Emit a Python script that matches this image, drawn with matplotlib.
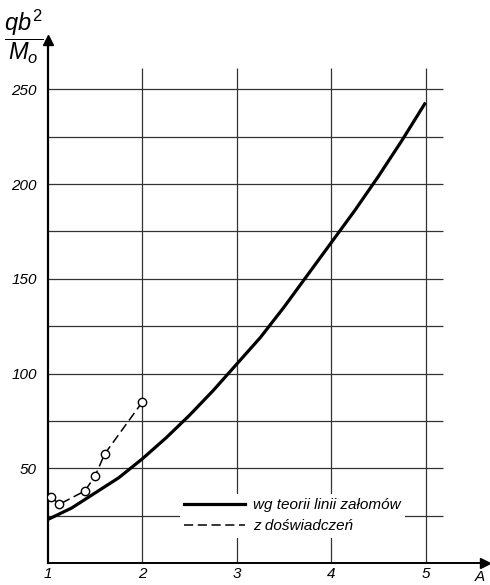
import matplotlib
matplotlib.use("Agg")
import matplotlib.pyplot as plt
from matplotlib.lines import Line2D

plt.rcParams["font.family"] = ["Liberation Sans", "DejaVu Sans"]
plt.rcParams["mathtext.fontset"] = "custom"
plt.rcParams["mathtext.it"] = "Liberation Sans:italic"
plt.rcParams["mathtext.rm"] = "Liberation Sans"

# theory curve (wg teorii linii załomów)
theory_A = [1.0, 1.25, 1.5, 1.75, 2.0, 2.25, 2.5, 2.75, 3.0, 3.25, 3.5, 3.75, 4.0, 4.25, 4.5, 4.75, 5.0]
theory_q = [23, 29, 37, 45, 55, 66, 78, 91, 105, 119, 135, 152, 169, 186, 204, 223, 243]

# experiments (z doświadczeń)
exp_A = [1.03, 1.12, 1.39, 1.5, 1.6, 2.0]
exp_q = [35, 31, 38, 46, 57.5, 85]

x_ticks = [1, 2, 3, 4, 5]
y_ticks = [50, 100, 150, 200, 250]
h_grid = [25, 50, 75, 100, 125, 150, 175, 200, 225, 250]
v_grid = [2, 3, 4, 5]
labels = ["wg teorii linii załomów", "z doświadczeń"]

fig = plt.figure(figsize=(4.9, 5.85), dpi=100)
ax = fig.add_axes([48 / 490, 22 / 585, 437 / 490, 523 / 585])
ax.set_xlim(1, 5.63)
ax.set_ylim(0, 276)

ax.hlines(h_grid, 1, 5.19, color="#333333", lw=0.9, zorder=1)
ax.vlines(v_grid, 0, 261, color="#333333", lw=0.9, zorder=1)

ax.plot(theory_A, theory_q, color="black", lw=2.3, solid_capstyle="butt", zorder=3)
ax.plot(exp_A, exp_q, color="black", lw=1.1, dashes=(6, 3), marker="o", ms=6,
        mfc="white", mec="black", mew=1.0, zorder=4)

for s in ("top", "right"):
    ax.spines[s].set_visible(False)
ax.spines["left"].set_linewidth(1.6)
ax.spines["bottom"].set_linewidth(1.4)
ax.plot(1, 0, ">k", ms=7, transform=ax.get_yaxis_transform(), clip_on=False)
ax.plot(1, 1, "^k", ms=7, transform=ax.get_xaxis_transform(), clip_on=False)

ax.set_xticks(x_ticks)
ax.set_yticks(y_ticks)
ax.tick_params(axis="y", length=0, labelsize=11, pad=8)
ax.tick_params(axis="x", length=0, labelsize=11, pad=3)
for lab in ax.get_xticklabels() + ax.get_yticklabels():
    lab.set_fontstyle("italic")

handles = [Line2D([], [], color="black", lw=2.3),
           Line2D([], [], color="black", lw=1.1, dashes=(6, 3))]
leg = ax.legend(handles, labels, loc="upper left", bbox_to_anchor=(172 / 490, 1 - 486 / 585),
                bbox_transform=fig.transFigure, handlelength=4.0,
                handletextpad=0.5, labelspacing=0.45, borderpad=0.3,
                frameon=True, framealpha=1, facecolor="white", edgecolor="none",
                fancybox=False, prop={"style": "italic", "size": 11})
leg.set_zorder(5)

fig.text(24 / 490, 1 - 37 / 585, r"$\dfrac{qb^2}{M_o}$", fontsize=17, ha="center", va="center")
fig.text(480 / 490, 1 - 577 / 585, "A", fontsize=11, fontstyle="italic", ha="center", va="center")

fig.savefig("out.png", dpi=100, facecolor="white")
